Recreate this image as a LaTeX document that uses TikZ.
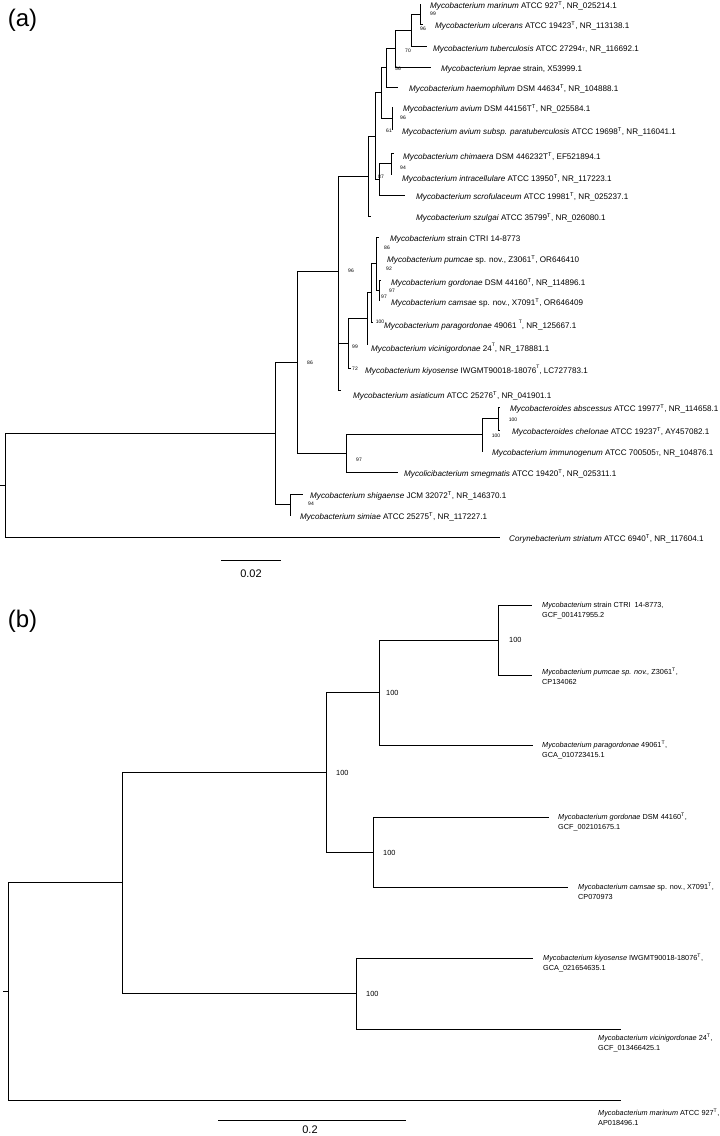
\documentclass[tikz,border=0pt]{standalone}
\usepackage{fontspec}
\setmainfont{Liberation Sans}
\newcommand{\supT}{\textsuperscript{T}}
\newcommand{\lowT}{{\fontsize{5}{5}\selectfont T}}
\newcommand{\highT}{\raisebox{1ex}{\fontsize{5}{5}\selectfont T}}
\begin{document}
\begin{tikzpicture}[x=1pt,y=-1pt,
  br/.style={line width=1pt},
  brb/.style={line width=0.85pt},
  la/.style={anchor=base west, inner sep=0pt, font=\fontsize{8.1}{9.7}\selectfont},
  lb/.style={anchor=base west, inner sep=0pt, font=\fontsize{7.3}{9.5}\selectfont},
  bsa/.style={inner sep=0pt, font=\fontsize{5}{6}\selectfont},
  bsb/.style={anchor=west, inner sep=0pt, font=\fontsize{7.4}{9}\selectfont},
  panel/.style={inner sep=0pt, font=\fontsize{24}{28}\selectfont},
  scl/.style={inner sep=0pt, font=\fontsize{11}{13}\selectfont}]
\useasboundingbox (0,0) rectangle (720,1136);

% ---------------- panel (a) ----------------
\node[panel] (pa) at (22.5,20.5) {(a)};

% internal nodes
\coordinate (Ra) at (5,485.2);
\coordinate (ra0) at (0,485.2);
\coordinate (I) at (275,433.3);
\coordinate (N86) at (297,362.2);
\coordinate (N96) at (338,271);
\coordinate (Nup) at (368,176);
\coordinate (Nx) at (375,136);
\coordinate (Nhav) at (381,92.75);
\coordinate (Nhae) at (386,67.5);
\coordinate (Nlep) at (395,48);
\coordinate (Ntb) at (411,30);
\coordinate (Nmu) at (420,14);
\coordinate (Nav) at (392,118);
\coordinate (Nscr) at (379,179.25);
\coordinate (Nchi) at (391,163.5);
\coordinate (N99) at (348,343.4);
\coordinate (Nvic) at (367,318.9);
\coordinate (Npara) at (371,292.75);
\coordinate (Npum) at (376,263.5);
\coordinate (Ngc) at (379,290);
\coordinate (N97) at (346,453.4);
\coordinate (Nimm) at (482,434.75);
\coordinate (Nabs) at (498,418.5);
\coordinate (Nsh) at (290,504.5);

% tips
\coordinate (tmar) at (421,4);
\coordinate (tulc) at (423,24);
\coordinate (ttub) at (427,46);
\coordinate (tlep) at (431,67);
\coordinate (thae) at (398,87);
\coordinate (tavi) at (393,107);
\coordinate (tpar) at (393,129);
\coordinate (tchi) at (394,153);
\coordinate (tint) at (392,174);
\coordinate (tscr) at (405,195);
\coordinate (tszu) at (371,216);
\coordinate (tctr) at (379,237);
\coordinate (tpum) at (377,258);
\coordinate (tgor) at (381,280);
\coordinate (tcam) at (380,300);
\coordinate (tpag) at (373,322);
\coordinate (tvic) at (367,345);
\coordinate (tkiy) at (351,368);
\coordinate (tasi) at (341,390);
\coordinate (tabs) at (500,407);
\coordinate (tche) at (500,430);
\coordinate (timm) at (483,451);
\coordinate (tsme) at (398,472);
\coordinate (tshi) at (303,494);
\coordinate (tsim) at (291,515);
\coordinate (tcor) at (500,537);

% branches
\draw[br] (ra0) -- (Ra);
\draw[br] (Ra) |- (I);  \draw[br] (Ra) |- (tcor);
\draw[br] (I) |- (N86); \draw[br] (I) |- (Nsh);
\draw[br] (N86) |- (N96); \draw[br] (N86) |- (N97);
\draw[br] (N96) |- (Nup); \draw[br] (N96) |- (N99); \draw[br] (N96) |- (tasi);
\draw[br] (Nup) |- (Nx); \draw[br] (Nup) |- (tszu);
\draw[br] (Nx) |- (Nhav); \draw[br] (Nx) |- (Nscr);
\draw[br] (Nhav) |- (Nhae); \draw[br] (Nhav) |- (Nav);
\draw[br] (Nhae) |- (Nlep); \draw[br] (Nhae) |- (thae);
\draw[br] (Nlep) |- (Ntb); \draw[br] (Nlep) |- (tlep);
\draw[br] (Ntb) |- (Nmu); \draw[br] (Ntb) |- (ttub);
\draw[br] (Nmu) |- (tmar); \draw[br] (Nmu) |- (tulc);
\draw[br] (Nav) |- (tavi); \draw[br] (Nav) |- (tpar);
\draw[br] (Nscr) |- (Nchi); \draw[br] (Nscr) |- (tscr);
\draw[br] (Nchi) |- (tchi); \draw[br] (Nchi) |- (tint);
\draw[br] (N99) |- (Nvic); \draw[br] (N99) |- (tkiy);
\draw[br] (Nvic) |- (Npara); \draw[br] (Nvic) |- (tvic);
\draw[br] (Npara) |- (Npum); \draw[br] (Npara) |- (tpag);
\draw[br] (Npum) |- (tctr); \draw[br] (Npum) |- (tpum); \draw[br] (Npum) |- (Ngc);
\draw[br] (Ngc) |- (tgor); \draw[br] (Ngc) |- (tcam);
\draw[br] (N97) |- (Nimm); \draw[br] (N97) |- (tsme);
\draw[br] (Nimm) |- (Nabs); \draw[br] (Nimm) |- (timm);
\draw[br] (Nabs) |- (tabs); \draw[br] (Nabs) |- (tche);
\draw[br] (Nsh) |- (tshi); \draw[br] (Nsh) |- (tsim);

% leaf labels
\node[la] (lmar) at (430,8) {\textit{Mycobacterium marinum} ATCC 927\supT, NR\_025214.1};
\node[la] (lulc) at (435,28) {\textit{Mycobacterium ulcerans} ATCC 19423\supT, NR\_113138.1};
\node[la] (ltub) at (433,51) {\textit{Mycobacterium tuberculosis} ATCC 27294\lowT, NR\_116692.1};
\node[la] (llep) at (441,71) {\textit{Mycobacterium leprae} strain, X53999.1};
\node[la] (lhae) at (409,91) {\textit{Mycobacterium haemophilum} DSM 44634\supT, NR\_104888.1};
\node[la] (lavi) at (403,111) {\textit{Mycobacterium avium} DSM 44156T\supT, NR\_025584.1};
\node[la] (lpar) at (402,134) {\textit{Mycobacterium avium subsp. paratuberculosis} ATCC 19698\supT, NR\_116041.1};
\node[la] (lchi) at (403,159) {\textit{Mycobacterium chimaera} DSM 446232T\supT, EF521894.1};
\node[la] (lint) at (402,181) {\textit{Mycobacterium intracellulare} ATCC 13950\supT, NR\_117223.1};
\node[la] (lscr) at (416,199) {\textit{Mycobacterium scrofulaceum} ATCC 19981\supT, NR\_025237.1};
\node[la] (lszu) at (416,220) {\textit{Mycobacterium szulgai} ATCC 35799\supT, NR\_026080.1};
\node[la] (lctr) at (390,241) {\textit{Mycobacterium} strain CTRI 14-8773};
\node[la] (lpum) at (387,262) {\textit{Mycobacterium pumcae} sp. nov., Z3061\supT, OR646410};
\node[la] (lgor) at (391,285) {\textit{Mycobacterium gordonae} DSM 44160\supT, NR\_114896.1};
\node[la] (lcam) at (391,305) {\textit{Mycobacterium camsae} sp. nov., X7091\supT, OR646409};
\node[la] (lpag) at (384,328) {\textit{Mycobacterium paragordonae} 49061 \highT, NR\_125667.1};
\node[la] (lvic) at (371,351) {\textit{Mycobacterium vicinigordonae} 24\highT, NR\_178881.1};
\node[la] (lkiy) at (365,373) {\textit{Mycobacterium kiyosense} IWGMT90018-18076\highT, LC727783.1};
\node[la] (lasi) at (353,398) {\textit{Mycobacterium asiaticum} ATCC 25276\supT, NR\_041901.1};
\node[la] (labs) at (510,411) {\textit{Mycobacteroides abscessus} ATCC 19977\supT, NR\_114658.1};
\node[la] (lche) at (512,434) {\textit{Mycobacteroides chelonae} ATCC 19237\supT, AY457082.1};
\node[la] (limm) at (492,455) {\textit{Mycobacterium immunogenum} ATCC 700505\lowT, NR\_104876.1};
\node[la] (lsme) at (404,476) {\textit{Mycolicibacterium smegmatis} ATCC 19420\supT, NR\_025311.1};
\node[la] (lshi) at (310,498) {\textit{Mycobacterium shigaense} JCM 32072\supT, NR\_146370.1};
\node[la] (lsim) at (300,519) {\textit{Mycobacterium simiae} ATCC 25275\supT, NR\_117227.1};
\node[la] (lcor) at (509,541) {\textit{Corynebacterium striatum} ATCC 6940\supT, NR\_117604.1};

% bootstrap values
\node[bsa] (ba1) at (433,14) {99};
\node[bsa] (ba2) at (423,29) {96};
\node[bsa] (ba3) at (408,51) {70};
\node[bsa] (ba4) at (398,69) {56};
\node[bsa] (ba5) at (403,118) {96};
\node[bsa] (ba6) at (389,131) {61};
\node[bsa] (ba7) at (403,168) {94};
\node[bsa] (ba8) at (381,177) {87};
\node[bsa] (ba9) at (387,248) {86};
\node[bsa] (ba10) at (389,269) {92};
\node[bsa] (ba11) at (392,291) {97};
\node[bsa] (ba12) at (384,297) {97};
\node[bsa] (ba13) at (380,322) {100};
\node[bsa] (ba14) at (351,271) {96};
\node[bsa] (ba15) at (355,347) {99};
\node[bsa] (ba16) at (355,369) {72};
\node[bsa] (ba17) at (310,363) {86};
\node[bsa] (ba18) at (513,420) {100};
\node[bsa] (ba19) at (496,436) {100};
\node[bsa] (ba20) at (359,460) {97};
\node[bsa] (ba21) at (311,504) {94};

% scale bar (a)
\coordinate (sa1) at (221,560);
\coordinate (sa2) at (281,560);
\draw[br] (sa1) -- (sa2);
\node[scl] (sal) at (251,574) {0.02};

% ---------------- panel (b) ----------------
\node[panel] (pb) at (22.5,621) {(b)};

\coordinate (Rb) at (8,991.4);
\coordinate (rb0) at (3,991.4);
\coordinate (Nb1) at (122,882.9);
\coordinate (Nb2) at (326,772.25);
\coordinate (Nb3) at (379,692.5);
\coordinate (Nct) at (498,640);
\coordinate (Ngd) at (373,852);
\coordinate (Nky) at (356,993.5);

\coordinate (bctr) at (532,605);
\coordinate (bpum) at (532,675);
\coordinate (bpag) at (533,745);
\coordinate (bgor) at (549,817);
\coordinate (bcam) at (568,887);
\coordinate (bkiy) at (533,958);
\coordinate (bvic) at (621,1029);
\coordinate (bmar) at (621,1100);

\draw[brb] (rb0) -- (Rb);
\draw[brb] (Rb) |- (Nb1); \draw[brb] (Rb) |- (bmar);
\draw[brb] (Nb1) |- (Nb2); \draw[brb] (Nb1) |- (Nky);
\draw[brb] (Nb2) |- (Nb3); \draw[brb] (Nb2) |- (Ngd);
\draw[brb] (Nb3) |- (Nct); \draw[brb] (Nb3) |- (bpag);
\draw[brb] (Nct) |- (bctr); \draw[brb] (Nct) |- (bpum);
\draw[brb] (Ngd) |- (bgor); \draw[brb] (Ngd) |- (bcam);
\draw[brb] (Nky) |- (bkiy); \draw[brb] (Nky) |- (bvic);

\node[lb] (lbctr1) at (542,607.7) {\textit{Mycobacterium} strain CTRI\ \ 14-8773,};
\node[lb] (lbctr2) at (542,617.2) {GCF\_001417955.2};
\node[lb] (lbpum1) at (542,674.7) {\textit{Mycobacterium pumcae sp. nov.,} Z3061\supT,};
\node[lb] (lbpum2) at (542,684.2) {CP134062};
\node[lb] (lbpag1) at (542,747.7) {\textit{Mycobacterium paragordonae} 49061\supT,};
\node[lb] (lbpag2) at (542,757.2) {GCA\_010723415.1};
\node[lb] (lbgor1) at (558,819.7) {\textit{Mycobacterium gordonae} DSM 44160\supT,};
\node[lb] (lbgor2) at (558,829.2) {GCF\_002101675.1};
\node[lb] (lbcam1) at (578,889.7) {\textit{Mycobacterium camsae} sp. nov., X7091\supT,};
\node[lb] (lbcam2) at (578,899.2) {CP070973};
\node[lb] (lbkiy1) at (543,960.7) {\textit{Mycobacterium kiyosense} IWGMT90018-18076\supT,};
\node[lb] (lbkiy2) at (543,970.2) {GCA\_021654635.1};
\node[lb] (lbvic1) at (598,1040.7) {\textit{Mycobacterium vicinigordonae} 24\supT,};
\node[lb] (lbvic2) at (598,1050.2) {GCF\_013466425.1};
\node[lb] (lbmar1) at (598,1115.7) {\textit{Mycobacterium marinum} ATCC 927\supT,};
\node[lb] (lbmar2) at (598,1125.2) {AP018496.1};

\node[bsb] (bb1) at (509,640) {100};
\node[bsb] (bb2) at (386,693) {100};
\node[bsb] (bb3) at (336,773) {100};
\node[bsb] (bb4) at (383,853) {100};
\node[bsb] (bb5) at (366,994) {100};

\coordinate (sb1) at (218,1120);
\coordinate (sb2) at (406,1120);
\draw[brb] (sb1) -- (sb2);
\node[scl] (sbl) at (310,1129.5) {0.2};
\end{tikzpicture}
\end{document}
